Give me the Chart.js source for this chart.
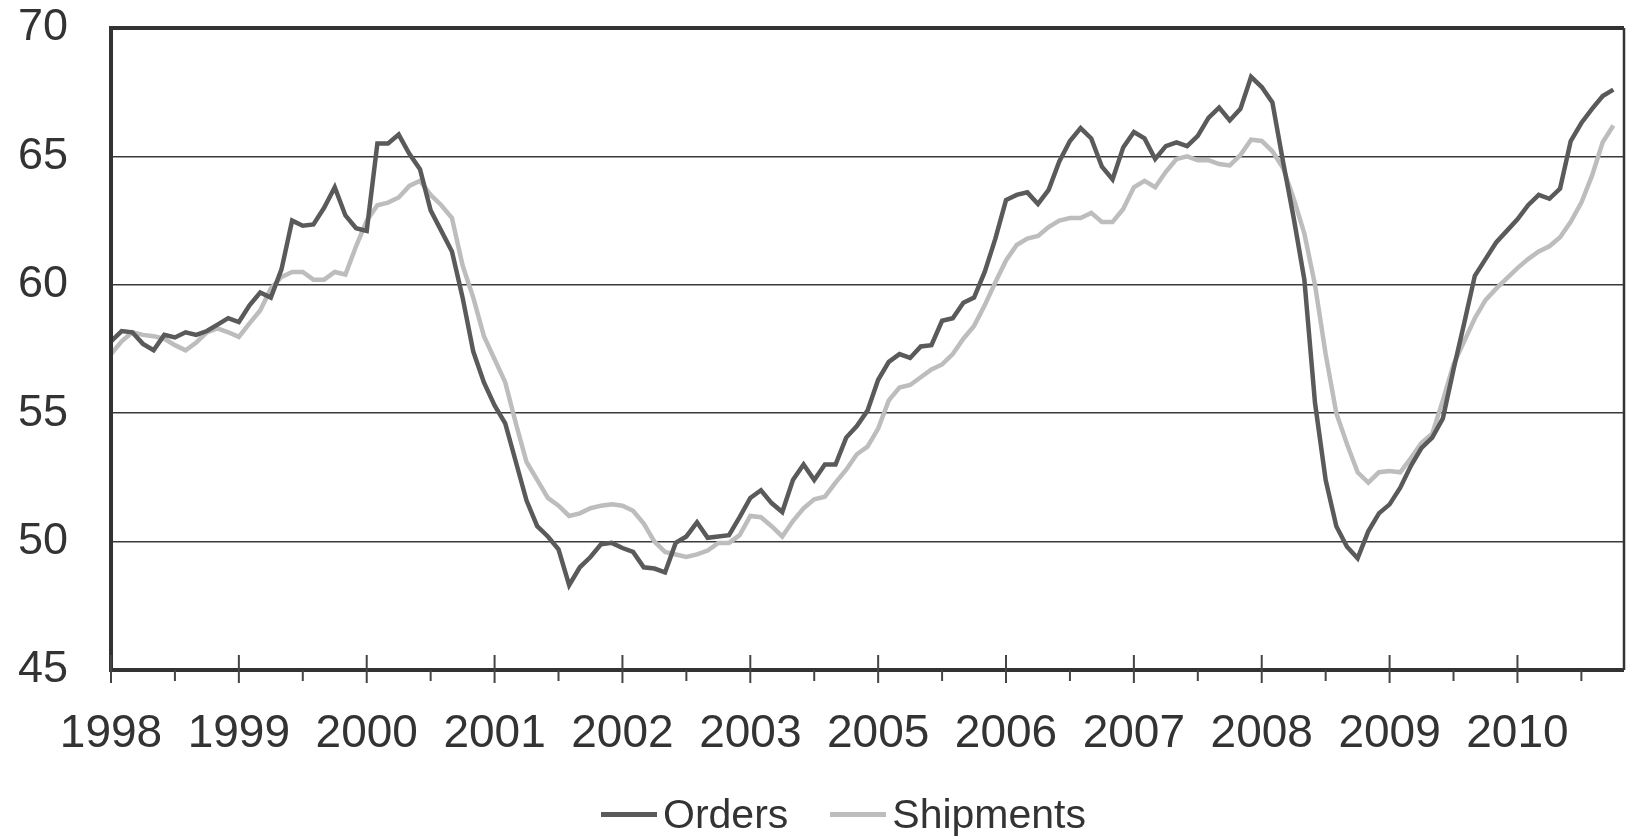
<!DOCTYPE html>
<html>
<head>
<meta charset="utf-8">
<script src="https://cdn.jsdelivr.net/npm/chart.js@4.4.1/dist/chart.umd.min.js"></script>
<style>
  html, body { margin: 0; padding: 0; background: #fff; }
  #wrap { position: relative; width: 1627px; height: 837px; overflow: hidden; }
  #grafico { position: absolute; left: 0; top: 0; }
  #legenda {
    position: absolute; left: 0; top: 791px; width: 100%;
    display: flex; justify-content: center; align-items: center;
    font-family: "Liberation Sans", Arial, sans-serif; font-size: 41px; color: #333;
    padding-left: 60px; box-sizing: border-box;
  }
  .item { display: flex; align-items: center; margin: 0 21px; }
  .traco { width: 56px; height: 5px; margin-right: 6px; }
</style>
</head>
<body>
<div id="wrap">
  <canvas id="grafico" width="1627" height="837"></canvas>
  <div id="legenda">
    <div class="item"><div class="traco" style="background:#5a5a5a"></div><span>Orders</span></div>
    <div class="item"><div class="traco" style="background:#bdbdbd"></div><span>Shipments</span></div>
  </div>
</div>
<script>
// rótulos dos anos (o original salta 2004)
const anos = ['1998', '1999', '2000', '2001', '2002', '2003', '2005', '2006', '2007', '2008', '2009', '2010'];
const nMeses = 143;

// valores mensais
const orders = [
  57.8, 58.2, 58.15, 57.7, 57.45, 58.05, 57.95, 58.15, 58.05, 58.2, 58.45, 58.7,
  58.55, 59.2, 59.7, 59.5, 60.6, 62.5, 62.3, 62.35, 63.0, 63.8, 62.7, 62.2,
  62.1, 65.5, 65.5, 65.85, 65.1, 64.5, 62.9, 62.1, 61.3, 59.5, 57.4, 56.2,
  55.3, 54.6, 53.1, 51.6, 50.6, 50.2, 49.7, 48.3, 49.0, 49.4, 49.9, 49.95,
  49.75, 49.6, 49.0, 48.95, 48.8, 49.95, 50.2, 50.75, 50.15, 50.2, 50.25, 50.95,
  51.7, 52.0, 51.5, 51.15, 52.4, 53.0, 52.4, 53.0, 53.0, 54.05, 54.5, 55.1,
  56.3, 57.0, 57.3, 57.15, 57.6, 57.65, 58.6, 58.7, 59.3, 59.5, 60.5, 61.8,
  63.3, 63.5, 63.6, 63.15, 63.7, 64.8, 65.6, 66.1, 65.7, 64.6, 64.1, 65.35,
  65.95, 65.7, 64.9, 65.4, 65.55, 65.4, 65.8, 66.5, 66.9, 66.4, 66.85, 68.1,
  67.7, 67.1, 64.8, 62.6, 60.2, 55.4, 52.4, 50.6, 49.8, 49.35, 50.4, 51.1,
  51.45, 52.1, 52.95, 53.65, 54.05, 54.8, 56.7, 58.5, 60.35, 61.0, 61.65, 62.1,
  62.55, 63.1, 63.5, 63.35, 63.75, 65.6, 66.3, 66.85, 67.35, 67.6, null
];
const shipments = [
  57.3, 57.8, 58.15, 58.05, 58.0, 57.9, 57.65, 57.45, 57.75, 58.15, 58.3, 58.15,
  57.97, 58.5, 59.0, 59.85, 60.3, 60.5, 60.5, 60.2, 60.2, 60.5, 60.4, 61.5,
  62.5, 63.1, 63.2, 63.4, 63.85, 64.05, 63.5, 63.1, 62.6, 60.75, 59.5, 58.0,
  57.1, 56.2, 54.6, 53.1, 52.4, 51.7, 51.4, 51.0, 51.1, 51.3, 51.4, 51.45,
  51.4, 51.2, 50.7, 50.0, 49.6, 49.5, 49.4, 49.5, 49.65, 49.95, 49.95, 50.25,
  51.0, 50.95, 50.6, 50.2, 50.8, 51.3, 51.65, 51.75, 52.3, 52.8, 53.4, 53.7,
  54.4, 55.5, 56.0, 56.1, 56.4, 56.7, 56.9, 57.3, 57.9, 58.4, 59.2, 60.1,
  60.95, 61.55, 61.8, 61.9, 62.25, 62.5, 62.6, 62.6, 62.8, 62.45, 62.45, 62.95,
  63.8, 64.05, 63.8, 64.4, 64.9, 65.0, 64.85, 64.85, 64.7, 64.65, 65.05, 65.65,
  65.6, 65.2, 64.55, 63.35, 62.0, 60.0, 57.3, 55.0, 53.8, 52.7, 52.3, 52.7,
  52.75, 52.7, 53.25, 53.85, 54.2, 55.5, 56.9, 57.8, 58.7, 59.4, 59.85, 60.25,
  60.65, 61.0, 61.3, 61.5, 61.85, 62.45, 63.2, 64.25, 65.55, 66.2, null
];

// uma categoria por mês, ano + mês
const meses = [];
anos.forEach(a => { for (let m = 1; m <= 12; m++) meses.push(a + '-' + m); });
const categorias = meses.slice(0, nMeses);

const corTexto = '#333';
const fonte = 'Liberation Sans, Arial, sans-serif';

// moldura do gráfico e marcas do eixo x
const moldura = {
  id: 'moldura',
  afterDatasetsDraw(chart) {
    const { ctx, chartArea: a, scales } = chart;
    ctx.save();
    ctx.strokeStyle = '#333';
    ctx.lineWidth = 4;
    ctx.beginPath();
    ctx.moveTo(a.right, a.top);
    ctx.lineTo(a.left, a.top);
    ctx.lineTo(a.left, a.bottom);
    ctx.lineTo(a.right, a.bottom);
    ctx.stroke();
    ctx.lineWidth = 2.5;
    ctx.beginPath();
    ctx.moveTo(a.right, a.top);
    ctx.lineTo(a.right, a.bottom);
    ctx.stroke();
    // marcas: anual atravessa o eixo, semestral só por baixo
    ctx.lineWidth = 2;
    ctx.strokeStyle = '#444';
    for (let i = 0; i < nMeses; i += 6) {
      const x = scales.x.getPixelForValue(i);
      ctx.beginPath();
      if (i % 12 === 0) {
        ctx.moveTo(x, a.bottom - 15);
        ctx.lineTo(x, a.bottom + 13);
      } else {
        ctx.moveTo(x, a.bottom);
        ctx.lineTo(x, a.bottom + 11);
      }
      ctx.stroke();
    }
    ctx.restore();
  }
};

new Chart(document.getElementById('grafico'), {
  type: 'line',
  data: {
    labels: categorias,
    datasets: [
      {
        label: 'Orders',
        data: orders,
        borderColor: '#5a5a5a',
        borderWidth: 4.5,
        pointRadius: 0,
        tension: 0
      },
      {
        label: 'Shipments',
        data: shipments,
        borderColor: '#bdbdbd',
        borderWidth: 4.5,
        pointRadius: 0,
        tension: 0
      }
    ]
  },
  options: {
    responsive: false,
    devicePixelRatio: 1,
    animation: false,
    layout: { padding: { top: 28, right: 3, bottom: 77, left: 0 } },
    plugins: {
      legend: { display: false },
      tooltip: { enabled: false }
    },
    scales: {
      x: {
        type: 'category',
        offset: false,
        grid: { display: false, drawTicks: false },
        border: { display: false },
        ticks: {
          autoSkip: false,
          maxRotation: 0,
          padding: 37,
          color: corTexto,
          font: { family: fonte, size: 46 },
          callback: (v, i) => (i % 12 === 0 ? anos[i / 12] : null)
        },
        afterFit: s => { s.height = 90; }
      },
      y: {
        min: 45,
        max: 70,
        grid: {
          drawTicks: false,
          lineWidth: 1.5,
          color: c => (c.tick && c.tick.value > 45 && c.tick.value < 70 ? '#3a3a3a' : 'transparent')
        },
        border: { display: false },
        ticks: {
          stepSize: 5,
          padding: 43,
          color: corTexto,
          font: { family: fonte, size: 45 }
        },
        // largura fixa e sem folga extra em cima/baixo
        afterFit: s => { s.width = 111; s.paddingTop = 0; s.paddingBottom = 0; }
      }
    }
  },
  plugins: [moldura]
});
</script>
</body>
</html>
